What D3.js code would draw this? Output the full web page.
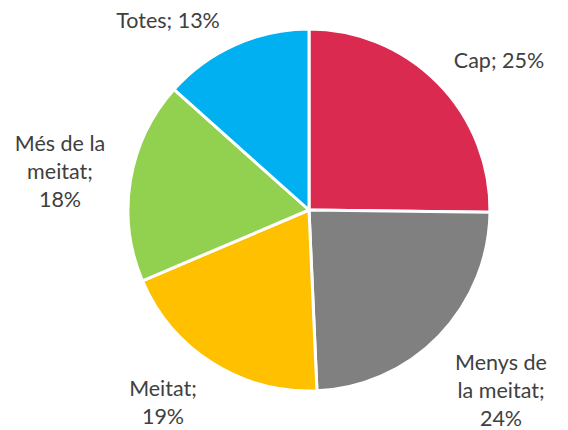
<!DOCTYPE html>
<html><head><meta charset="utf-8">
<script src="https://cdn.jsdelivr.net/npm/d3@7"></script>
<style>body{margin:0;background:#fff}svg{display:block}</style>
</head><body>
<script>
const categories = ["Cap", "Menys de la meitat", "Meitat", "Més de la meitat", "Totes"];
const values = [25.2, 24.1, 19.3, 18.0, 13.4];
const labelLines = [["Cap; 25%"], ["Menys de", "la meitat;", "24%"], ["Meitat;", "19%"], ["Més de la", "meitat;", "18%"], ["Totes; 13%"]];
const colors = ["#DA2A4F", "#808080", "#FFC000", "#92D050", "#00B0F0"];
const labelPos = [[499, 68], [501, 370], [163, 396], [60, 151], [168, 28]];

const W = 568, H = 430, cx = 309, cy = 210, R = 181;
const svg = d3.select("body").append("svg").attr("width", W).attr("height", H);
const pie = d3.pie().sort(null).value(d => d)(values);
const arc = d3.arc().innerRadius(0).outerRadius(R);
const g = svg.append("g").attr("transform", `translate(${cx},${cy})`);
g.selectAll("path").data(pie).join("path")
  .attr("d", arc).attr("fill", (d, i) => colors[i])
  .attr("stroke", "#fff").attr("stroke-width", 3).attr("stroke-linejoin", "round");
const lh = 28;
svg.selectAll("text.lbl").data(labelLines).join("text").attr("class", "lbl")
  .attr("x", (d, i) => labelPos[i][0]).attr("y", (d, i) => labelPos[i][1])
  .attr("text-anchor", "middle").attr("font-family", "Lato, 'Open Sans', sans-serif")
  .attr("font-size", 21.5).attr("fill", "#404040")
  .each(function(d, i) {
    d3.select(this).selectAll("tspan").data(d).join("tspan")
      .attr("x", labelPos[i][0]).attr("dy", (t, j) => j === 0 ? 0 : lh).text(t => t);
  });
</script>
</body></html>
